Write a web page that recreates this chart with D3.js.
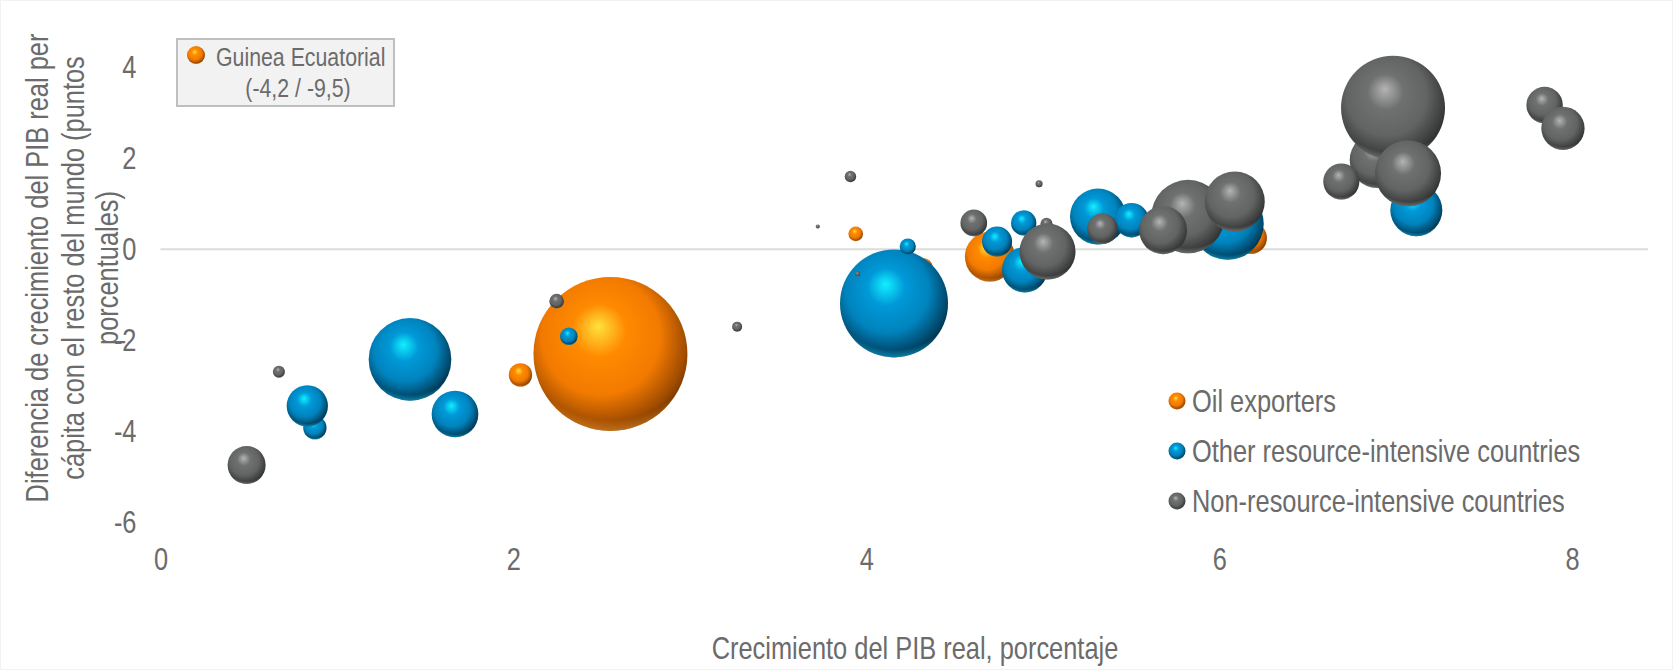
<!DOCTYPE html>
<html>
<head>
<meta charset="utf-8">
<script src="https://cdn.jsdelivr.net/npm/d3@7"></script>
<style>
  html, body { margin: 0; padding: 0; background: #ffffff; }
  svg { display: block; }
  text { font-family: "Liberation Sans", Arial, sans-serif; fill: #6b6b6b; }
</style>
</head>
<body>
<svg id="chart" width="1673" height="670"></svg>
<script>
// ---- data ----
const xTicks = [0, 2, 4, 6, 8];
const yTicks = [-6, -4, -2, 0, 2, 4];

const seriesNames = ["Oil exporters", "Other resource-intensive countries", "Non-resource-intensive countries"];

const oilX    = [2.04, 2.55, 3.94, 4.32, 4.70, 6.18];
const oilY    = [-2.76, -2.30, 0.34, -0.41, -0.16, 0.25];
const oilSize = [2.3, 100, 0.9, 1.7, 10.5, 4.3];

const otherX    = [0.875, 0.832, 1.414, 1.669, 2.314, 4.157, 4.235, 4.741, 4.898, 4.892, 5.313, 5.503, 6.048, 7.117];
const otherY    = [-3.92, -3.44, -2.42, -3.62, -1.91, -1.19, 0.06, 0.17, -0.45, 0.58, 0.72, 0.64, 0.56, 0.86];
const otherSize = [2.3, 7.2, 28.8, 9.2, 1.3, 49.2, 1.1, 3.8, 8.7, 2.7, 13.2, 5.0, 21.9, 11.4];

const nonX    = [0.488, 0.671, 2.245, 3.268, 3.910, 3.725, 3.950, 4.609, 4.979, 5.021, 5.027, 5.338, 5.823, 5.682, 6.088, 6.898, 6.692, 6.985, 7.070, 7.844, 7.948];
const nonY    = [-4.74, -2.69, -1.14, -1.70, 1.60, 0.50, -0.54, 0.58, 1.44, 0.56, -0.05, 0.45, 0.72, 0.42, 1.05, 1.96, 1.49, 3.11, 1.67, 3.17, 2.66];
const nonSize = [6.1, 0.61, 0.9, 0.42, 0.55, 0.07, 0.11, 3.0, 0.21, 0.61, 13.2, 3.9, 22.7, 9.7, 15.2, 13.2, 5.5, 45.6, 18.4, 5.6, 7.9];

const calloutLines = ["Guinea Ecuatorial", "(-4,2 / -9,5)"];
const xTitle = "Crecimiento del PIB real, porcentaje";
const yTitleLines = ["Diferencia de crecimiento del PIB real per", "cápita con el resto del mundo (puntos", "porcentuales)"];

// ---- styles ----
const NARROW = 0.82; // emulate a condensed (Arial Narrow-like) face
const palettes = [
  { id: "oil",   hi: "#ffe23c", body: "#ff8a00", body2: "#f27a00", dark: "#a04c00", darkest: "#6a3000", rim: "#ffa436" },
  { id: "other", hi: "#12f0ff", body: "#0099d8", body2: "#0083bd", dark: "#00486b", darkest: "#00283c", rim: "#19cfff" },
  { id: "non",   hi: "#b4b4b4", body: "#6f7070", body2: "#626363", dark: "#3c3d3d", darkest: "#262727", rim: "#a8a8a8" }
];

const W = 1673, H = 670;
const svg = d3.select("#chart");
const defs = svg.append("defs");

palettes.forEach(p => {
  const g = defs.append("radialGradient").attr("id", "grad-" + p.id)
    .attr("cx", 0.45).attr("cy", 0.42).attr("r", 0.62).attr("fx", 0.42).attr("fy", 0.32);
  [[0, p.hi], [0.28, p.body], [0.62, p.body2], [0.88, p.dark], [1, p.darkest]].forEach(s =>
    g.append("stop").attr("offset", s[0]).attr("stop-color", s[1]));
  const r = defs.append("radialGradient").attr("id", "rim-" + p.id)
    .attr("cx", 0.5).attr("cy", 0.3).attr("r", 0.75);
  r.append("stop").attr("offset", 0).attr("stop-color", p.rim).attr("stop-opacity", 0);
  r.append("stop").attr("offset", 0.84).attr("stop-color", p.rim).attr("stop-opacity", 0);
  r.append("stop").attr("offset", 1).attr("stop-color", p.rim).attr("stop-opacity", 0.85);
});

function narrowText(parent, tx, ty, str, size, anchor, dy) {
  const t = parent.append("g").attr("transform", `translate(${tx},${ty}) scale(${NARROW},1)`)
    .append("text").attr("font-size", size).attr("text-anchor", anchor || "start").text(str);
  if (dy) t.attr("dy", dy);
  return t;
}

// ---- scales ----
const x = d3.scaleLinear().domain([0, 8.43]).range([160.5, 1648]);
const y = d3.scaleLinear().domain([-6, 5]).range([522.3, 21.8]);
const rScale = d3.scaleSqrt().domain([0, 100]).range([0, 77]);

// faint frame
svg.append("rect").attr("x", 0.5).attr("y", 0.5).attr("width", W - 1).attr("height", H - 1)
  .attr("fill", "none").attr("stroke", "#f2f2f2").attr("stroke-width", 1);

// zero gridline
svg.append("line")
  .attr("x1", x(0)).attr("x2", x(8.43))
  .attr("y1", y(0)).attr("y2", y(0))
  .attr("stroke", "#dcdcdc").attr("stroke-width", 2);

// axes (labels only)
const xAxis = d3.axisBottom(x).tickValues(xTicks).tickSize(0).tickPadding(0).tickFormat(d3.format("d"));
const gx = svg.append("g").attr("transform", `translate(0, ${y(-6) + 26})`).call(xAxis);
gx.select(".domain").remove();
gx.selectAll("text").attr("font-size", 31).attr("fill", "#6b6b6b")
  .attr("font-family", '"Liberation Sans", Arial, sans-serif')
  .attr("transform", `scale(${NARROW},1)`);

const yAxis = d3.axisLeft(y).tickValues(yTicks).tickSize(0).tickPadding(0).tickFormat(d => d);
const gy = svg.append("g").attr("transform", `translate(${x(0) - 24}, 0)`).call(yAxis);
gy.select(".domain").remove();
gy.selectAll("text").attr("font-size", 31).attr("fill", "#6b6b6b")
  .attr("font-family", '"Liberation Sans", Arial, sans-serif')
  .attr("transform", `scale(${NARROW},1)`);

// bubbles
const series = [
  { xs: oilX, ys: oilY, ss: oilSize, p: palettes[0] },
  { xs: otherX, ys: otherY, ss: otherSize, p: palettes[1] },
  { xs: nonX, ys: nonY, ss: nonSize, p: palettes[2] }
];
const plot = svg.append("g");
series.forEach(s => {
  const pts = s.xs.map((v, i) => ({ x: v, y: s.ys[i], s: s.ss[i] }));
  const g = plot.append("g");
  pts.forEach(d => {
    g.append("circle").attr("cx", x(d.x)).attr("cy", y(d.y)).attr("r", rScale(d.s))
      .attr("fill", `url(#grad-${s.p.id})`);
    g.append("circle").attr("cx", x(d.x)).attr("cy", y(d.y)).attr("r", rScale(d.s))
      .attr("fill", `url(#rim-${s.p.id})`);
  });
});

// series legend
const legend = svg.append("g").attr("transform", "translate(1177, 401)");
seriesNames.forEach((name, i) => {
  const row = legend.append("g").attr("transform", `translate(0, ${i * 50})`);
  row.append("circle").attr("r", 8.5).attr("fill", `url(#grad-${palettes[i].id})`);
  row.append("circle").attr("r", 8.5).attr("fill", `url(#rim-${palettes[i].id})`);
  narrowText(row, 15, 0, name, 31, "start", "0.36em");
});

// callout box
const cb = svg.append("g").attr("transform", "translate(177, 39)");
cb.append("rect").attr("width", 217).attr("height", 67)
  .attr("fill", "#f2f2f2").attr("stroke", "#bfbfbf").attr("stroke-width", 2);
cb.append("circle").attr("cx", 19).attr("cy", 16).attr("r", 9).attr("fill", "url(#grad-oil)");
cb.append("circle").attr("cx", 19).attr("cy", 16).attr("r", 9).attr("fill", "url(#rim-oil)");
narrowText(cb, 39, 27, calloutLines[0], 26, "start");
narrowText(cb, 121, 58, calloutLines[1], 26, "middle");

// axis titles
narrowText(svg, 915, 659, xTitle, 31, "middle");

const yt = svg.append("g").attr("transform", "translate(0, 268) rotate(-90)");
const lineX = [37, 72.5, 107];
yTitleLines.forEach((t, i) => {
  narrowText(yt, 0, lineX[i], t, 31, "middle", "0.36em");
});
</script>
</body>
</html>
